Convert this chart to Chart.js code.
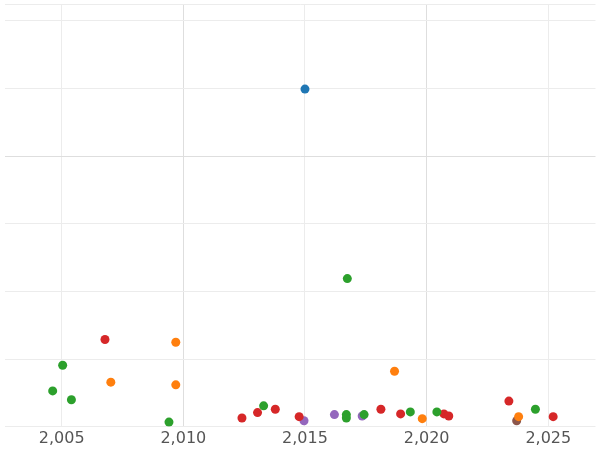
<!DOCTYPE html>
<html>
<head>
<script src="https://cdn.jsdelivr.net/npm/chart.js@4"></script>
<style>body{margin:0;background:#fff}#wrap{width:600px;height:450px}</style>
</head>
<body>
<div id="wrap"><canvas id="chart"></canvas></div>
<script>
const blueX = [2015.0], blueY = [4.99];
const greenX = [2016.74, 2005.04, 2004.63, 2005.4, 2009.41, 2013.3, 2016.7, 2016.7, 2017.43, 2019.33, 2020.42, 2024.47];
const greenY = [2.19, 0.91, 0.53, 0.40, 0.07, 0.31, 0.18, 0.13, 0.18, 0.22, 0.22, 0.26];
const redX = [2006.78, 2012.41, 2013.05, 2013.78, 2014.76, 2018.12, 2018.93, 2020.71, 2020.91, 2023.38, 2025.2];
const redY = [1.29, 0.13, 0.21, 0.26, 0.15, 0.26, 0.19, 0.19, 0.16, 0.38, 0.15];
const orangeX = [2009.69, 2007.02, 2009.69, 2018.68, 2019.82, 2023.78];
const orangeY = [1.25, 0.66, 0.62, 0.82, 0.12, 0.15];
const purpleX = [2014.96, 2016.21, 2017.35];
const purpleY = [0.09, 0.18, 0.16];
const brownX = [2023.7], brownY = [0.09];
const xTicks = [2005, 2010, 2015, 2020, 2025];

function pts(xs, ys){ return xs.map((x,i)=>({x:x, y:ys[i]})) }
function ds(xs, ys, color){
    return {data: pts(xs, ys), backgroundColor: color, borderWidth: 0, pointRadius: 4.5}
}

new Chart(document.getElementById('chart').getContext('2d'), {
    type: 'scatter',
    data: {
        datasets: [
            ds(blueX, blueY, '#1f77b4'),
            ds(orangeX, orangeY, '#ff7f0e'),
            ds(greenX, greenY, '#2ca02c'),
            ds(redX, redY, '#d62728'),
            ds(purpleX, purpleY, '#9467bd'),
            ds(brownX, brownY, '#8c564b')
        ]
    },
    options: {
        responsive: true,
        maintainAspectRatio: false,
        animation: false,
        layout: {padding: 0},
        plugins: {legend: {display: false}, tooltip: {enabled: false}},
        scales: {
            x: {
                type: 'linear', min: 2002.65, max: 2026.94,
                afterBuildTicks: axis => { axis.ticks = xTicks.map(v => ({value: v})) },
                ticks: {color: '#555', font: {size: 16, family: 'DejaVu Sans'}, padding: 2},
                grid: {color: c => (c.tick && (c.tick.value === 2010 || c.tick.value === 2020)) ? '#dedede' : '#ececec', drawTicks: false},
                border: {display: false}
            },
            y: {
                min: 0, max: 6.24,
                ticks: {display: false, stepSize: 1},
                grid: {color: c => (c.tick && c.tick.value === 4) ? '#dedede' : '#ececec', drawTicks: false},
                border: {display: false}
            }
        }
    }
});
</script>
</body>
</html>
